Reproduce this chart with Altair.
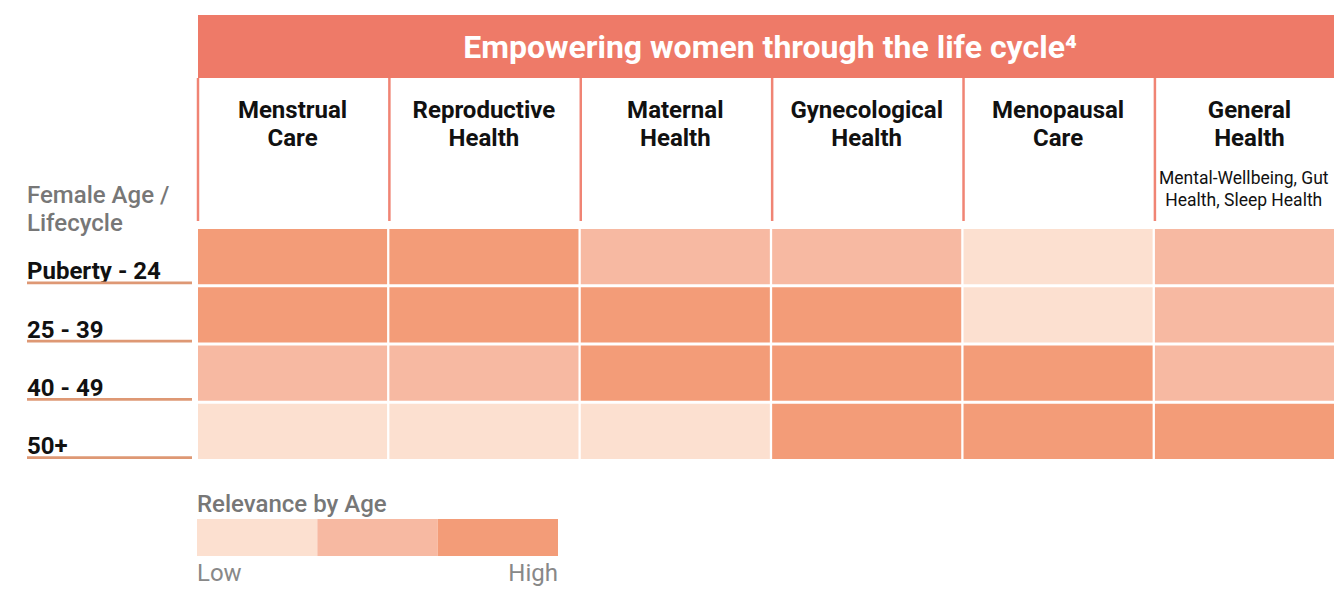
import altair as alt
import pandas as pd

# ---------------- data ----------------
categories = ["Menstrual Care", "Reproductive Health", "Maternal Health",
              "Gynecological Health", "Menopausal Care", "General Health"]
category_labels = ["Menstrual\nCare", "Reproductive\nHealth", "Maternal\nHealth",
                   "Gynecological\nHealth", "Menopausal\nCare", "General\nHealth"]
general_note = "Mental-Wellbeing, Gut\nHealth, Sleep Health"
age_groups = ["Puberty - 24", "25 - 39", "40 - 49", "50+"]
# 1 = Low, 2 = Medium, 3 = High
relevance_puberty_24 = [3, 3, 2, 2, 1, 2]
relevance_25_39 = [3, 3, 3, 3, 1, 2]
relevance_40_49 = [2, 2, 3, 3, 3, 2]
relevance_50_plus = [1, 1, 1, 3, 3, 3]
level_names = ["Low", "Medium", "High"]
level_colors = ["#FCE0D0", "#F7B9A2", "#F39C78"]
title_text = "Empowering women through the life cycle\u2074"
row_header = "Female Age /\nLifecycle"
legend_title = "Relevance by Age"

FONT = "Roboto"
W, H = 1136, 230          # plot area inside a 1326 x 578 svg
GRID_W = 1146             # grid runs past the right edge and is clipped, as in the original

rows = [relevance_puberty_24, relevance_25_39, relevance_40_49, relevance_50_plus]
cells = pd.DataFrame([
    {"age": a, "category": c, "level": level_names[v - 1]}
    for a, r in zip(age_groups, rows) for c, v in zip(categories, r)
])
cat_df = pd.DataFrame({"category": categories, "label": category_labels})
note_df = pd.DataFrame({"category": [categories[-1]], "note": [general_note]})
age_df = pd.DataFrame({"age": age_groups})
one = pd.DataFrame({"t": [title_text]})
legend_df = pd.DataFrame({"level": level_names})

xs = alt.Scale(domain=categories, range=[0, GRID_W], paddingInner=0.012, paddingOuter=0)
ys = alt.Scale(domain=age_groups, paddingInner=0.052, paddingOuter=0)
X = lambda **kw: alt.X("category:N", scale=xs, axis=None, **kw)
Y = lambda **kw: alt.Y("age:N", scale=ys, axis=None, **kw)
color = alt.Color("level:N", scale=alt.Scale(domain=level_names, range=level_colors), legend=None)

header = alt.Chart(one).mark_rect(color="#EE7A68").encode(
    x=alt.value(0), x2=alt.value(GRID_W), y=alt.value(-214), y2=alt.value(-151))
title = alt.Chart(one).mark_text(font=FONT, fontSize=32, fontWeight="bold", color="white",
                                 align="center", baseline="alphabetic").encode(
    x=alt.value(572), y=alt.value(-171), text="t:N")
separators = alt.Chart(cat_df).mark_rule(color="#F08474", strokeWidth=2.5).encode(
    x=X(bandPosition=0), y=alt.value(-151), y2=alt.value(-8))
col_labels = alt.Chart(cat_df).mark_text(font=FONT, fontSize=24, fontWeight="bold", color="#111111",
                                         align="center", baseline="alphabetic", lineBreak="\n",
                                         lineHeight=28).encode(
    x=X(bandPosition=0.5), y=alt.value(-111.5), text="label:N")
note = alt.Chart(note_df).mark_text(font=FONT, fontSize=17.5, color="#111111", align="center",
                                    baseline="alphabetic", lineBreak="\n", lineHeight=22).encode(
    x=X(bandPosition=0.47), y=alt.value(-45.5), text="note:N")
heat = alt.Chart(cells).mark_rect().encode(x=X(), y=Y(), color=color)
row_labels = alt.Chart(age_df).mark_text(font=FONT, fontSize=24, fontWeight="bold", color="#111111",
                                         align="left", baseline="alphabetic").encode(
    x=alt.value(-171), y=Y(bandPosition=0.91), text="age:N")
underlines = alt.Chart(age_df).mark_rule(color="#DE9874", strokeWidth=2.6).encode(
    x=alt.value(-171), x2=alt.value(-6), y=Y(bandPosition=0.975))
row_head = alt.Chart(pd.DataFrame({"t": [row_header]})).mark_text(
    font=FONT, fontSize=24, fontWeight=500, color="#777777", align="left",
    baseline="alphabetic", lineBreak="\n", lineHeight=28).encode(
    x=alt.value(-171), y=alt.value(-26.5), text="t:N")

main = alt.layer(header, title, separators, col_labels, note, heat, row_labels, underlines, row_head)

ls = alt.Scale(domain=level_names, range=[-1, 360], paddingInner=0, paddingOuter=0)
LX = lambda **kw: alt.X("level:N", scale=ls, axis=None, **kw)
swatches = alt.Chart(legend_df).mark_rect().encode(
    x=LX(), y=alt.value(290), y2=alt.value(327), color=color)
leg_title = alt.Chart(pd.DataFrame({"level": ["Low"], "t": [legend_title]})).mark_text(
    font=FONT, fontSize=24, fontWeight=500, color="#777777", align="left", baseline="alphabetic").encode(
    x=LX(bandPosition=0), y=alt.value(282.5), text="t:N")
low_lab = alt.Chart(pd.DataFrame({"level": ["Low"]})).mark_text(
    font=FONT, fontSize=24, color="#888888", align="left", baseline="alphabetic").encode(
    x=LX(bandPosition=0), y=alt.value(351.5), text="level:N")
high_lab = alt.Chart(pd.DataFrame({"level": ["High"]})).mark_text(
    font=FONT, fontSize=24, color="#888888", align="right", baseline="alphabetic").encode(
    x=LX(bandPosition=1), y=alt.value(351.5), text="level:N")
legend = alt.layer(swatches, leg_title, low_lab, high_lab)

chart = alt.layer(main, legend).resolve_scale(x="independent").properties(
    width=W, height=H,
    padding={"left": 190, "top": 221, "right": 0, "bottom": 127},
    autosize="none",
).configure_view(stroke=None)

chart.save("out.html", embed_options={"renderer": "svg", "actions": False})
